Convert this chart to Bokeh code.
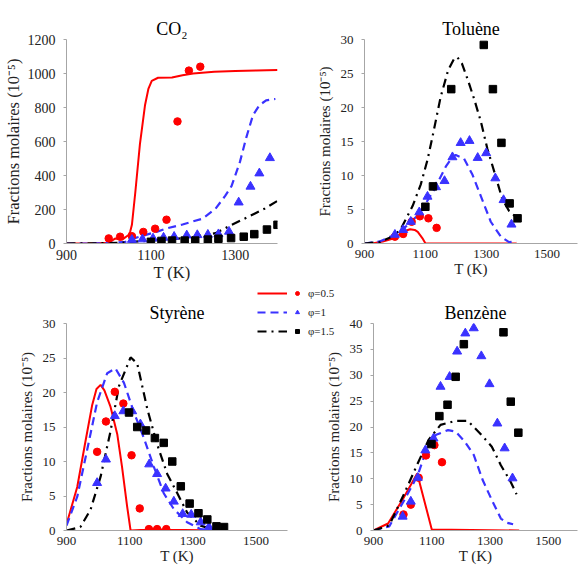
from bokeh.plotting import figure
from bokeh.layouts import column, row
from bokeh.models import Legend, LegendItem, FixedTicker, Range1d, GridBox
from bokeh.embed import file_html
from bokeh.resources import INLINE

# ---------------- data ----------------
# CO2
co2_T_sim05 = [900, 950, 1000, 1016, 1032, 1047, 1051, 1055, 1063, 1074, 1086, 1094, 1102, 1117, 1150, 1175, 1200, 1250, 1300, 1350, 1400]
co2_sim05 = [0, 0, 5, 30, 23, 50, 70, 110, 300, 585, 813, 909, 956, 975, 976, 990, 1000, 1010, 1015, 1018, 1020]
co2_T_sim1 = [900, 950, 1000, 1040, 1060, 1090, 1115, 1136, 1175, 1222, 1253, 1276, 1291, 1311, 1326, 1342, 1357, 1373, 1387, 1395]
co2_sim1 = [0, 0, 2, 10, 30, 52, 70, 88, 112, 146, 204, 280, 337, 480, 623, 756, 813, 842, 848, 850]
co2_T_sim15 = [900, 1000, 1050, 1100, 1160, 1200, 1253, 1291, 1330, 1369, 1400]
co2_sim15 = [0, 2, 8, 18, 27, 38, 61, 109, 156, 204, 251]
co2_T_exp05 = [1000, 1027, 1055, 1082, 1110, 1137, 1163, 1190, 1217]
co2_exp05 = [30, 40, 43, 68, 87, 140, 718, 1017, 1040]
co2_T_exp1 = [1055, 1080, 1105, 1130, 1155, 1185, 1210, 1235, 1260, 1285, 1308, 1336, 1357, 1382]
co2_exp1 = [22, 25, 30, 35, 40, 48, 50, 52, 55, 70, 242, 335, 413, 503]
co2_T_exp15 = [1100, 1125, 1150, 1180, 1205, 1235, 1260, 1290, 1320, 1345, 1375, 1400]
co2_exp15 = [10, 15, 17, 17, 17, 23, 28, 32, 40, 55, 82, 110]

# Toluene
tol_T_sim05 = [900, 930, 960, 1000, 1030, 1050, 1065, 1075, 1090, 1100, 1150, 1400]
tol_sim05 = [0, 0.05, 0.3, 0.8, 1.8, 2.1, 2.0, 1.7, 0.8, 0.05, 0, 0]
tol_T_sim1 = [900, 950, 1000, 1036, 1074, 1100, 1129, 1167, 1190, 1200, 1227, 1255, 1282, 1315, 1348, 1375, 1400]
tol_sim1 = [0, 0.3, 1.3, 2.5, 4.1, 5.8, 7.9, 11.3, 12.8, 13.0, 12.5, 10.1, 7.0, 3.2, 1.0, 0.2, 0.3]
tol_T_sim15 = [900, 950, 1000, 1020, 1058, 1085, 1107, 1123, 1134, 1150, 1175, 1195, 1205, 1220, 1240, 1260, 1282, 1304, 1331, 1353, 1375, 1400]
tol_sim15 = [0, 0.2, 1.2, 2.2, 5.5, 8.7, 12.3, 15.6, 18.0, 21.5, 25.5, 27.2, 27.4, 26.5, 24.0, 21.3, 18.0, 13.9, 9.9, 6.5, 4.8, 3.8]
tol_T_exp05 = [1000, 1027, 1055, 1082, 1110, 1137]
tol_exp05 = [1.0, 1.4, 3.2, 4.0, 3.7, 2.3]
tol_T_exp1 = [1000, 1027, 1052, 1080, 1107, 1135, 1163, 1189, 1216, 1245, 1272, 1300, 1330, 1357, 1383]
tol_exp1 = [1.3, 2.0, 3.2, 4.6, 6.9, 8.3, 9.2, 12.7, 14.8, 15.1, 12.6, 13.3, 9.6, 6.4, 2.8]
tol_T_exp15 = [1100, 1125, 1185, 1292, 1322, 1350, 1377, 1403]
tol_exp15 = [5.4, 8.4, 22.7, 29.2, 22.7, 14.8, 5.9, 3.7]

# Styrene
sty_T_sim05 = [900, 934, 960, 981, 995, 1008, 1020, 1039, 1061, 1076, 1092, 1103, 1150, 1180, 1210, 1400]
sty_sim05 = [0.9, 6.3, 12.9, 18.1, 20.5, 21.1, 20.3, 18.0, 13.9, 9.2, 3.5, 0, 0.1, 0.2, 0.1, 0]
sty_T_sim1 = [900, 934, 966, 997, 1029, 1055, 1082, 1113, 1145, 1177, 1208, 1240, 1282, 1325, 1360, 1400]
sty_sim1 = [0.7, 4.9, 11.8, 18.6, 22.8, 23.5, 21.4, 17.2, 13.4, 9.2, 5.4, 3.1, 1.2, 0.2, 0, 0]
sty_T_sim15 = [900, 944, 976, 1008, 1039, 1066, 1103, 1124, 1156, 1187, 1219, 1251, 1282, 1325, 1367, 1400]
sty_sim15 = [0, 0.5, 3, 7.8, 14.3, 20.9, 25.1, 24.2, 17.6, 12.5, 8.2, 5.4, 2.6, 0.7, 0.1, 0]
sty_T_exp05 = [997, 1025, 1053, 1080, 1106, 1132, 1161, 1187, 1216]
sty_exp05 = [11.4, 15.8, 20.1, 18.4, 10.9, 3.2, 0.2, 0.2, 0.2]
sty_T_exp1 = [997, 1025, 1053, 1080, 1108, 1134, 1162, 1187, 1214, 1240, 1268, 1295, 1325, 1351]
sty_exp1 = [6.9, 10.3, 16.6, 17.3, 17.3, 15.4, 9.6, 8.2, 6.1, 4.2, 2.4, 2.3, 1.2, 0.5]
sty_T_exp15 = [1098, 1124, 1152, 1180, 1208, 1235, 1262, 1290, 1318, 1346, 1375, 1399]
sty_exp15 = [17.1, 15.0, 14.5, 13.4, 12.7, 10.0, 6.4, 3.9, 2.5, 1.6, 0.6, 0.5]

# Benzene
ben_T_sim05 = [900, 950, 1000, 1050, 1100, 1400]
ben_sim05 = [0, 1.35, 6.0, 11.0, 0.2, 0]
ben_T_sim1 = [900, 954, 1006, 1052, 1089, 1115, 1156, 1182, 1213, 1244, 1275, 1306, 1337, 1358, 1379]
ben_sim1 = [0, 0.8, 5.9, 10.7, 16.8, 18.5, 19.4, 19.1, 17.2, 14.6, 9.7, 5.9, 2.3, 1.5, 1.2]
ben_T_sim15 = [900, 954, 1006, 1052, 1089, 1130, 1182, 1223, 1265, 1306, 1337, 1368, 1391]
ben_sim15 = [0, 1.0, 7.2, 13.0, 17.5, 20.4, 21.2, 21.2, 18.8, 16.2, 12.6, 9.7, 7.0]
ben_T_exp05 = [1003, 1028, 1055, 1080, 1109, 1135]
ben_exp05 = [3.1, 5.0, 10.2, 14.5, 16.5, 13.2]
ben_T_exp1 = [1000, 1028, 1052, 1078, 1106, 1130, 1161, 1187, 1215, 1244, 1270, 1298, 1325, 1350, 1377]
ben_exp1 = [2.7, 5.6, 10.2, 15.5, 17.8, 27.8, 29.7, 34.6, 38.1, 39.1, 33.7, 28.3, 20.7, 15.9, 10.1]
ben_T_exp15 = [1099, 1126, 1154, 1182, 1210, 1346, 1371, 1397]
ben_exp15 = [16.7, 22.1, 24.3, 29.7, 36.0, 38.3, 24.9, 18.9]

titles = ["CO\u2082", "Toluène", "Styrène", "Benzène"]
legend_labels = ["\u03c6=0.5", "\u03c6=1", "\u03c6=1.5"]
x_label = "T (K)"
y_label = "Fractions molaires (10\u207b\u2075)"

# ---------------- styling ----------------
RED = "#FF0000"
BLUE = "#3A32FF"
BLACK = "#000000"
AXIS = "#a6a6a6"
FONT = "Liberation Serif"
DASH = "8 5"
DASHDOT = "9 5 2 5"


def make_fig(title, w, h, xr, yr, xticks, yticks, bl, br, bt, bb,
             tick_fs="13px", lab_fs="15px", title_offset=0, ylab_standoff=5):
    p = figure(width=w, height=h, x_range=Range1d(*xr), y_range=Range1d(*yr),
               output_backend="svg", toolbar_location=None,
               min_border_left=bl, min_border_right=br,
               min_border_top=bt, min_border_bottom=bb)
    p.title.text = title
    p.title.align = "center"
    p.title.offset = title_offset
    p.title.text_font = FONT
    p.title.text_font_size = "18px"
    p.title.text_font_style = "normal"
    p.title.text_color = "#000000"
    p.title.standoff = 2
    p.xgrid.visible = False
    p.ygrid.visible = False
    p.outline_line_color = None
    p.background_fill_color = "white"
    p.border_fill_color = "white"
    p.xaxis.ticker = FixedTicker(ticks=xticks)
    p.yaxis.ticker = FixedTicker(ticks=yticks)
    for ax in (p.xaxis[0], p.yaxis[0]):
        ax.axis_line_color = AXIS
        ax.major_tick_line_color = AXIS
        ax.minor_tick_line_color = None
        ax.major_tick_in = 0
        ax.major_label_text_font = FONT
        ax.major_label_text_font_size = tick_fs
        ax.major_label_text_color = "#222222"
        ax.axis_label_text_font = FONT
        ax.axis_label_text_font_size = lab_fs
        ax.axis_label_text_font_style = "normal"
        ax.axis_label_text_color = "#222222"
    p.xaxis.major_tick_out = 0
    p.xaxis.major_label_standoff = 6
    p.xaxis.axis_label_standoff = 0
    p.yaxis.major_tick_out = 3
    p.yaxis.major_label_standoff = 8
    p.yaxis.axis_label_standoff = ylab_standoff
    p.xaxis.axis_label = x_label
    p.yaxis.axis_label = y_label
    return p


def draw(p, sims, exps):
    (t1, v1), (t2, v2), (t3, v3) = sims
    (e1, w1), (e2, w2), (e3, w3) = exps
    lines = [p.line(t1, v1, line_color=RED, line_width=2),
             p.line(t2, v2, line_color=BLUE, line_width=2.2, line_dash=DASH),
             p.line(t3, v3, line_color=BLACK, line_width=2.2, line_dash=DASHDOT)]
    marks = [p.scatter(e1, w1, marker="circle", size=7.5, color=RED),
             p.scatter(e2, w2, marker="triangle", size=9, color=BLUE),
             p.scatter(e3, w3, marker="square", size=7.5, color=BLACK)]
    return lines, marks


p1 = make_fig(titles[0], 291, 284, (900, 1400), (0, 1200), [900, 1100, 1300],
              list(range(0, 1201, 200)), 60, 14, 39, 35, tick_fs="14px", lab_fs="16.5px",
              title_offset=7, ylab_standoff=2)
draw(p1, [(co2_T_sim05, co2_sim05), (co2_T_sim1, co2_sim1), (co2_T_sim15, co2_sim15)],
     [(co2_T_exp05, co2_exp05), (co2_T_exp1, co2_exp1), (co2_T_exp15, co2_exp15)])

p2 = make_fig(titles[1], 289, 284, (900, 1600), (0, 30), [900, 1100, 1300, 1500],
              list(range(0, 31, 5)), 73, 3, 39, 35, title_offset=-6)
draw(p2, [(tol_T_sim05, tol_sim05), (tol_T_sim1, tol_sim1), (tol_T_sim15, tol_sim15)],
     [(tol_T_exp05, tol_exp05), (tol_T_exp1, tol_exp1), (tol_T_exp15, tol_exp15)])

p3 = make_fig(titles[2], 322, 282, (900, 1600), (0, 30), [900, 1100, 1300, 1500],
              list(range(0, 31, 5)), 66, 35, 39, 30, title_offset=2)
sty_sims = [(sty_T_sim05, sty_sim05), (sty_T_sim1, sty_sim1), (sty_T_sim15, sty_sim15)]
sty_exps = [(sty_T_exp05, sty_exp05), (sty_T_exp1, sty_exp1), (sty_T_exp15, sty_exp15)]
draw(p3, sty_sims, sty_exps)

p4 = make_fig(titles[3], 258, 282, (900, 1600), (0, 40), [900, 1100, 1300, 1500],
              list(range(0, 41, 5)), 49, 3, 39, 30, title_offset=11)
draw(p4, [(ben_T_sim05, ben_sim05), (ben_T_sim1, ben_sim1), (ben_T_sim15, ben_sim15)],
     [(ben_T_exp05, ben_exp05), (ben_T_exp1, ben_exp1), (ben_T_exp15, ben_exp15)])

# Transparent overlay carrying the shared legend (it straddles the two lower panels).
# Its renderers reuse the styrene series; the overlay's ranges keep them out of view,
# so only their legend samples show.
pleg = figure(width=580, height=282, x_range=Range1d(0, 1), y_range=Range1d(-2, -1),
              output_backend="svg", toolbar_location=None, x_axis_type=None, y_axis_type=None,
              min_border=0, min_border_left=0, min_border_right=0, min_border_top=0, min_border_bottom=0)
pleg.outline_line_color = None
pleg.background_fill_alpha = 0
pleg.border_fill_alpha = 0
proxy_lines, proxy_marks = draw(pleg, sty_sims, sty_exps)

common = dict(glyph_height=16, label_height=16, spacing=3, padding=0, margin=0,
              background_fill_alpha=0, border_line_alpha=0,
              label_text_font=FONT, label_text_font_size="11px", label_text_color="#222222")
legA = Legend(items=[LegendItem(label=" ", renderers=[r]) for r in proxy_lines],
              location=(257, 227), glyph_width=30, label_standoff=0, **common)
legB = Legend(items=[LegendItem(label=lab, renderers=[m]) for lab, m in zip(legend_labels, proxy_marks)],
              location=(292, 227), glyph_width=10, label_standoff=6, **common)
pleg.add_layout(legA)
pleg.add_layout(legB)

bottom = GridBox(children=[(row(p3, p4), 0, 0), (pleg, 0, 0)])
layout = column(row(p1, p2), bottom)
open("out.html", "w").write(file_html(layout, INLINE))
